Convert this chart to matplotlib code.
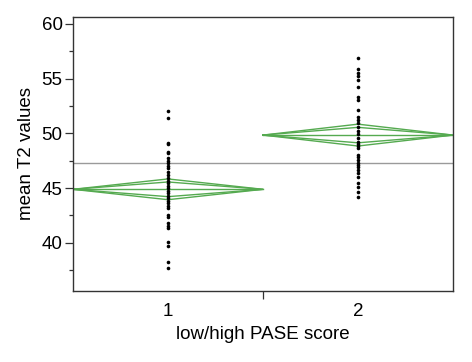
import numpy as np
import matplotlib
matplotlib.use("Agg")
import matplotlib.pyplot as plt

plt.rcParams['font.family'] = ['Liberation Sans', 'DejaVu Sans']

groups = [1, 2]
group_labels = ["1", "2"]

low_values = [52.04, 51.37, 49.14, 48.99, 48.32, 48.17, 47.71, 47.5, 47.31, 47.01,
              46.8, 46.5, 46.19, 45.89, 45.67, 45.43, 45.18, 44.97, 44.75, 44.52,
              44.27, 44.06, 43.84, 43.6, 43.35, 43.14, 42.53, 42.38, 41.77, 41.53,
              41.32, 40.1, 39.7, 38.26, 37.71]
high_values = [56.86, 55.85, 55.54, 55.24, 54.87, 54.2, 53.29, 53.04, 52.13, 51.46,
               51.22, 50.91, 50.55, 50.24, 49.94, 49.54, 49.23, 49.02, 48.84, 48.63,
               48.02, 47.81, 47.56, 47.31, 47.1, 46.89, 46.65, 46.34, 46.03, 45.48,
               45.12, 44.66, 44.15]

group_means = [44.88, 49.84]
ci_half = [0.95, 1.0]
grand_mean = 47.31

fig = plt.figure(figsize=(4.72, 3.62), dpi=100)
ax = fig.add_axes([73/472, 1-291/362, (453-73)/472, (291-17)/362])

green = '#55aa50'
ax.axhline(grand_mean, color='#9a9a9a', lw=1.0, zorder=1)

for g, m, h in zip(groups, group_means, ci_half):
    xl, xr = g - 0.5, g + 0.5
    # outer diamond
    ax.plot([xl, g, xr, g, xl], [m, m + h, m, m - h, m], color=green, lw=1.0, zorder=2)
    # overlap marks
    hi = h / np.sqrt(2)
    ax.plot([xl, g, xr, g, xl], [m, m + hi, m, m - hi, m], color=green, lw=1.0, zorder=2)
    # mean line
    ax.plot([xl, xr], [m, m], color=green, lw=1.0, zorder=2)

for g, vals in zip(groups, [low_values, high_values]):
    ax.plot([g] * len(vals), vals, 'o', color='black', ms=2.6, mew=0, zorder=3)

ax.set_xlim(0.5, 2.5)
ax.set_ylim(35.58, 60.64)
ax.set_yticks([40, 45, 50, 55, 60])
ax.set_yticks([37.5, 42.5, 47.5, 52.5, 57.5], minor=True)
ax.set_xticks(groups)
ax.set_xticklabels(group_labels)
ax.set_xticks([1.5], minor=True)
ax.tick_params(axis='x', which='major', length=0, pad=9, labelsize=13.5)
ax.tick_params(axis='x', which='minor', length=5.5, width=0.9, color='#333333')
ax.tick_params(axis='y', which='major', length=5.5, width=0.9, labelsize=13.5, pad=2, color='#333333')
ax.tick_params(axis='y', which='minor', length=3.2, width=0.9, color='#333333')

for s in ax.spines.values():
    s.set_color('#333333')
    s.set_linewidth(1.0)

ax.set_ylabel('mean T2 values', fontsize=13.5, labelpad=5)
ax.set_xlabel('low/high PASE score', fontsize=13.5, labelpad=4)

fig.savefig('out.png', dpi=100)
